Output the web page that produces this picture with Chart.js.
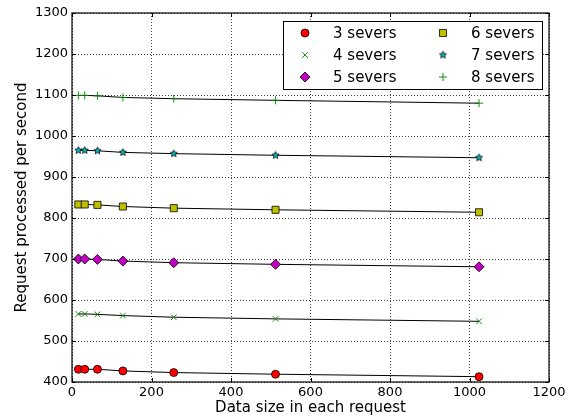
<!DOCTYPE html>
<html>
<head>
<meta charset="utf-8">
<script src="https://cdn.jsdelivr.net/npm/chart.js@4"></script>
<style>
html, body { margin: 0; padding: 0; background: #fff; }
</style>
</head>
<body>
<canvas id="chart" width="577" height="417"></canvas>
<script>
// data
const dataSizes = [16, 32, 64, 128, 256, 512, 1024];
const servers3 = [431, 431, 431, 427, 423, 419, 413];
const servers4 = [566, 566, 565, 562, 558, 554, 548];
const servers5 = [700, 700, 699, 695, 691, 687, 681];
const servers6 = [833, 833, 832, 828, 824, 820, 814];
const servers7 = [965, 965, 964, 960, 957, 953, 947];
const servers8 = [1099, 1099, 1098, 1094, 1091, 1087, 1080];
const seriesNames = ['3 severs', '4 severs', '5 severs', '6 severs', '7 severs', '8 severs'];
const xTicks = [0, 200, 400, 600, 800, 1000, 1200];
const yTicks = [400, 500, 600, 700, 800, 900, 1000, 1100, 1200, 1300];

const FONT = 'DejaVu Sans';

// filled star marker (Chart.js 'star' is only strokes)
function makeStar(r, fill) {
    const s = Math.ceil(r * 2 + 3);
    const c = document.createElement('canvas');
    c.width = c.height = s;
    const g = c.getContext('2d');
    g.beginPath();
    for (let i = 0; i < 10; i++) {
        const a = -Math.PI / 2 + i * Math.PI / 5;
        const rr = i % 2 ? r * 0.45 : r;
        g.lineTo(s / 2 + rr * Math.cos(a), s / 2 + rr * Math.sin(a));
    }
    g.closePath();
    g.fillStyle = fill;
    g.fill();
    g.lineWidth = 0.8;
    g.strokeStyle = '#000';
    g.stroke();
    return c;
}
const starImg = makeStar(3.8, '#00bfbf');

// marker style for each series
const markers = [
    { pointStyle: 'circle', radius: 4, bg: '#ff0000', border: '#000', bw: 0.8 },
    { pointStyle: 'crossRot', radius: 4, bg: '#008000', border: '#008000', bw: 0.9 },
    { pointStyle: 'rectRot', radius: 5, bg: '#bf00bf', border: '#000', bw: 0.8 },
    { pointStyle: 'rect', radius: 5, bg: '#bfbf00', border: '#000', bw: 0.8 },
    { pointStyle: starImg, radius: 4, bg: '#00bfbf', border: '#000', bw: 0.8 },
    { pointStyle: 'cross', radius: 4, bg: '#008000', border: '#008000', bw: 0.9 }
];

const allSeries = [servers3, servers4, servers5, servers6, servers7, servers8];

const datasets = allSeries.map((vals, i) => ({
    label: seriesNames[i],
    data: vals.map((v, j) => ({ x: dataSizes[j], y: v })),
    borderColor: '#000',
    borderWidth: 1,
    pointStyle: markers[i].pointStyle,
    pointRadius: markers[i].radius,
    pointBackgroundColor: markers[i].bg,
    pointBorderColor: markers[i].border,
    pointBorderWidth: markers[i].bw,
    fill: false,
    tension: 0
}));

// axes frame with inward ticks on all four sides
const framePlugin = {
    id: 'frame',
    afterDatasetsDraw(chart) {
        const { ctx, chartArea: a } = chart;
        const xs = chart.scales.x, ys = chart.scales.y;
        ctx.save();
        ctx.strokeStyle = '#000';
        ctx.lineWidth = 1;
        ctx.beginPath();
        xTicks.forEach(v => {
            const px = Math.round(xs.getPixelForValue(v)) + 0.5;
            ctx.moveTo(px, a.bottom); ctx.lineTo(px, a.bottom - 4);
            ctx.moveTo(px, a.top); ctx.lineTo(px, a.top + 4);
        });
        yTicks.forEach(v => {
            const py = Math.round(ys.getPixelForValue(v)) + 0.5;
            ctx.moveTo(a.left, py); ctx.lineTo(a.left + 4, py);
            ctx.moveTo(a.right, py); ctx.lineTo(a.right - 4, py);
        });
        ctx.stroke();
        ctx.lineWidth = 1.2;
        ctx.strokeRect(a.left, a.top, a.right - a.left, a.bottom - a.top);
        ctx.restore();
    }
};

// legend box, two columns filled top to bottom
const legendPlugin = {
    id: 'boxLegend',
    afterDraw(chart) {
        const ctx = chart.ctx;
        const box = { x: 283, y: 21, w: 259, h: 68 };
        ctx.save();
        ctx.fillStyle = '#fff';
        ctx.fillRect(box.x, box.y, box.w, box.h);
        ctx.strokeStyle = '#000';
        ctx.lineWidth = 1;
        ctx.strokeRect(box.x + 0.5, box.y + 0.5, box.w, box.h);
        ctx.font = '15px "' + FONT + '"';
        ctx.textBaseline = 'middle';
        ctx.fillStyle = '#000';
        seriesNames.forEach((name, i) => {
            const col = Math.floor(i / 3), row = i % 3;
            const mx = box.x + 22 + col * 138;
            const my = box.y + 12 + row * 22;
            const m = markers[i];
            ctx.fillStyle = m.bg;
            ctx.strokeStyle = m.border;
            ctx.lineWidth = m.bw;
            Chart.helpers.drawPoint(ctx, { pointStyle: m.pointStyle, radius: m.radius, borderWidth: m.bw, rotation: 0 }, mx, my);
            ctx.fillStyle = '#000';
            ctx.fillText(name, mx + 28, my + 1);
        });
        ctx.restore();
    }
};

new Chart(document.getElementById('chart'), {
    type: 'line',
    data: { datasets: datasets },
    options: {
        responsive: false,
        animation: false,
        layout: { padding: { top: 13, right: 28, left: 0, bottom: 0 } },
        plugins: {
            legend: { display: false },
            tooltip: { enabled: false }
        },
        scales: {
            x: {
                type: 'linear',
                min: 0,
                max: 1200,
                afterBuildTicks: s => { s.ticks = xTicks.map(v => ({ value: v })); },
                afterFit: s => { s.height = 35; },
                ticks: { color: '#000', font: { family: FONT, size: 13 }, padding: 3, maxRotation: 0, callback: v => String(v) },
                grid: { color: 'rgba(0,0,0,0.75)', lineWidth: 1, drawTicks: false },
                border: { display: false, dash: [1, 2] },
                title: { display: true, text: 'Data size in each request', color: '#000', font: { family: FONT, size: 15 }, padding: { top: 0, bottom: 0 } }
            },
            y: {
                min: 400,
                max: 1300,
                afterBuildTicks: s => { s.ticks = yTicks.map(v => ({ value: v })); },
                afterFit: s => { s.width = 72; },
                ticks: { color: '#000', font: { family: FONT, size: 13 }, padding: 4, callback: v => String(v) },
                grid: { color: 'rgba(0,0,0,0.75)', lineWidth: 1, drawTicks: false },
                border: { display: false, dash: [1, 2] },
                title: { display: true, text: 'Request processed per second', color: '#000', font: { family: FONT, size: 15 }, padding: { top: 13, bottom: 0 } }
            }
        }
    },
    plugins: [framePlugin, legendPlugin]
});
</script>
</body>
</html>
